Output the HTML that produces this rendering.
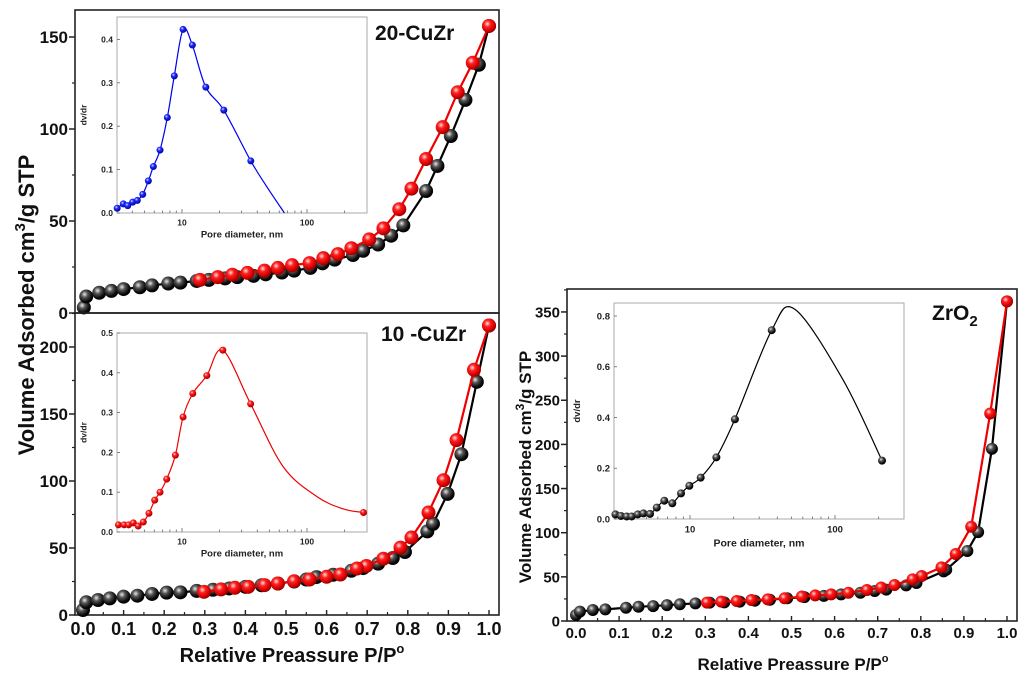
<!DOCTYPE html>
<html><head><meta charset="utf-8"><style>
html,body{margin:0;padding:0;background:#fff;}
svg{display:block;font-family:"Liberation Sans",Arial,sans-serif;}
.tl{font-weight:bold;}
</style></head><body>
<svg id="fig" width="1024" height="678" viewBox="0 0 1024 678" xmlns="http://www.w3.org/2000/svg">
<defs>
<radialGradient id="gBlack" cx="38%" cy="35%" r="65%"><stop offset="0" stop-color="#e8e8e8"/><stop offset="0.35" stop-color="#555"/><stop offset="0.8" stop-color="#0a0a0a"/><stop offset="1" stop-color="#000"/></radialGradient>
<radialGradient id="gRed" cx="38%" cy="35%" r="65%"><stop offset="0" stop-color="#ffe0e0"/><stop offset="0.35" stop-color="#ff2020"/><stop offset="0.8" stop-color="#d00000"/><stop offset="1" stop-color="#900"/></radialGradient>
<radialGradient id="gBlue" cx="38%" cy="35%" r="65%"><stop offset="0" stop-color="#e0e8ff"/><stop offset="0.35" stop-color="#2030ff"/><stop offset="1" stop-color="#0000a0"/></radialGradient>
</defs>
</svg>
<script>
// ---- Panel A: 20-CuZr isotherm ----
const aAdsP = [0.002,0.008,0.04,0.07,0.1,0.14,0.17,0.21,0.24,0.28,0.31,0.35,0.38,0.42,0.45,0.49,0.52,0.56,0.59,0.62,0.665,0.69,0.727,0.759,0.789,0.845,0.873,0.906,0.942,0.975,1.0];
const aAdsV = [3,9,11,12,13,14,15,16,16.5,17.4,18,18.8,19.5,20.2,21,22,23,24.5,27,29,31.5,33.8,37.2,42,47.6,66.3,79.9,96.2,115.8,134.9,156];
const aDesP = [1.0,0.96,0.923,0.886,0.845,0.809,0.779,0.74,0.705,0.661,0.628,0.592,0.558,0.515,0.48,0.447,0.405,0.368,0.332,0.288];
const aDesV = [156,136,120,101,83.7,67.6,56.4,46,40,35.2,32,29.8,27.1,26,24.5,23,21.8,20.8,19.5,18];
// inset A
const iaD = [3.03,3.39,3.68,4.03,4.39,4.85,5.38,5.9,6.67,7.63,8.68,10.2,12.1,15.5,21.6,35.5];
const iaV = [0.011,0.021,0.017,0.025,0.029,0.043,0.074,0.107,0.145,0.22,0.316,0.423,0.387,0.29,0.237,0.12];
const iaFitD = [47.6,66];
const iaFitV = [0.061,0];
// ---- Panel B: 10-CuZr ----
const bAdsP = [0,0.008,0.037,0.066,0.1,0.134,0.17,0.206,0.24,0.28,0.32,0.36,0.4,0.44,0.48,0.52,0.55,0.575,0.616,0.661,0.69,0.727,0.763,0.793,0.848,0.862,0.898,0.932,0.97,1.0];
const bAdsV = [3.7,9.5,11.2,12.4,13.7,14.4,15.7,16.7,16.9,18,18.8,19.8,21,22.2,23.5,25,26.5,28.3,30,33,35,38.3,42.5,47,62.4,68,90.4,120,174,216];
const bDesP = [1.0,0.963,0.92,0.888,0.851,0.809,0.782,0.74,0.698,0.675,0.634,0.6,0.558,0.52,0.48,0.447,0.407,0.374,0.34,0.298];
const bDesV = [216,183,130.5,100.6,76.5,57.8,50.3,42,36.6,34.7,30.2,28.5,26.5,25.2,23.5,22.3,21,20.3,19.1,17.3];
const ibD = [3.1,3.44,3.74,4.08,4.46,4.9,5.44,6.05,6.67,7.55,8.85,10.2,12.2,15.8,21.2,35.4,283];
const ibV = [0.018,0.018,0.018,0.023,0.015,0.025,0.047,0.08,0.1,0.133,0.193,0.289,0.348,0.393,0.457,0.322,0.049];
const ibFitD = [64.5,120,195];
const ibFitV = [0.164,0.089,0.058];
// ---- Panel C: ZrO2 ----
const cAdsP = [0,0.009,0.039,0.068,0.116,0.145,0.179,0.211,0.241,0.277,0.31,0.344,0.38,0.415,0.45,0.49,0.53,0.575,0.615,0.66,0.693,0.72,0.766,0.79,0.853,0.859,0.908,0.933,0.965,1.0];
const cAdsV = [6.8,10.6,12.5,13.2,15,16.2,16.9,18,18.9,20,20.8,21.1,22,23,24,25.7,27,28.5,30.2,32,34,35.5,40.4,43,56.2,58,79.3,100.7,195,362];
const cDesP = [1.0,0.961,0.917,0.881,0.848,0.802,0.781,0.739,0.708,0.675,0.632,0.592,0.555,0.524,0.484,0.445,0.407,0.373,0.337,0.304];
const cDesV = [362,235,106.8,75.9,60.8,51,47.2,40.8,38,35.1,32,30.2,29,27.7,25.7,24.5,23.8,22.6,21.9,20.8];
const icD = [3.06,3.34,3.66,3.96,4.36,4.77,5.3,5.9,6.65,7.55,8.67,9.9,11.85,15.2,20.4,36.6,211];
const icV = [0.018,0.012,0.01,0.01,0.018,0.022,0.02,0.045,0.072,0.062,0.101,0.131,0.163,0.243,0.393,0.744,0.23];
const icFitD = [53,114];
const icFitV = [0.826,0.547];
// tick labels
const pTicks = [0,0.1,0.2,0.3,0.4,0.5,0.6,0.7,0.8,0.9,1.0];
const aYTicks = [0,50,100,150];
const bYTicks = [0,50,100,150,200];
const cYTicks = [0,50,100,150,200,250,300,350];
const iaYTicks = [0,0.1,0.2,0.3,0.4];
const ibYTicks = [0,0.1,0.2,0.3,0.4,0.5];
const icYTicks = [0,0.2,0.4,0.6,0.8];
const logTicks = [10,100];

const NS="http://www.w3.org/2000/svg";
const svg=document.getElementById('fig');
function mk(tag,attrs,parent){const e=document.createElementNS(NS,tag);for(const k in attrs)e.setAttribute(k,attrs[k]);(parent||svg).appendChild(e);return e;}
function txt(s,attrs,parent){const e=mk('text',attrs,parent);e.textContent=s;return e;}

function isotherm(cfg){
  const g=mk('g',{});
  
  
  const X=p=>cfg.x0+cfg.xs*p, Y=v=>cfg.y0-cfg.ys*v;
  const fr=mk('rect',{x:cfg.fx0,y:cfg.fy0,width:cfg.fx1-cfg.fx0,height:cfg.fy1-cfg.fy0,fill:'none',stroke:'#222','stroke-width':1.6},g);
  
  
  const step=cfg.yt[1]-cfg.yt[0];
  for(let i=0;i<cfg.yt.length;i++){
    const v=cfg.yt[i];
    mk('line',{x1:cfg.fx0-6,x2:cfg.fx0,y1:Y(v),y2:Y(v),stroke:'#222','stroke-width':1.5},g);
    const mv=v+step/2;
    if(Y(mv)>cfg.fy0) mk('line',{x1:cfg.fx0-3,x2:cfg.fx0,y1:Y(mv),y2:Y(mv),stroke:'#222','stroke-width':1.2},g);
    const t=txt(String(v),{x:cfg.fx0-7,y:Y(v)+cfg.tf*0.36,'text-anchor':'end','font-size':cfg.tf,class:'tl',fill:'#111'},g);
    
    
  }
  if(cfg.xlabels){
    for(let i=0;i<pTicks.length;i++){
      const p=pTicks[i];
      mk('line',{x1:X(p),x2:X(p),y1:cfg.fy1,y2:cfg.fy1-5,stroke:'#222','stroke-width':1.4},g);
      if(p<1) mk('line',{x1:X(p+0.05),x2:X(p+0.05),y1:cfg.fy1,y2:cfg.fy1-3,stroke:'#222','stroke-width':1.2},g);
      const t=txt(p.toFixed(1),{x:X(p),y:cfg.fy1+cfg.xf+2,'text-anchor':'middle','font-size':cfg.xf,class:'tl',fill:'#111'},g);
      
      
    }
  }
  const series=[[cfg.ap,cfg.av,'#000','url(#gBlack)','adsorption'],[cfg.dp,cfg.dv,'#e00','url(#gRed)','desorption']];
  for(const [ps,vs,col,fill,nm] of series){
    const pts=ps.map((p,i)=>X(p)+','+Y(vs[i])).join(' ');
    const l=mk('polyline',{points:pts,fill:'none',stroke:col,'stroke-width':2.2},g);
    
    
    for(let i=0;i<ps.length;i++){
      const c=mk('circle',{cx:X(ps[i]),cy:Y(vs[i]),r:cfg.r,fill:fill},g);
      
      
    }
  }
}

function spline(pts){
  let d='M'+pts[0][0]+','+pts[0][1];
  for(let i=0;i<pts.length-1;i++){
    const p0=pts[Math.max(i-1,0)],p1=pts[i],p2=pts[i+1],p3=pts[Math.min(i+2,pts.length-1)];
    const c1=[p1[0]+(p2[0]-p0[0])/6,p1[1]+(p2[1]-p0[1])/6];
    const c2=[p2[0]-(p3[0]-p1[0])/6,p2[1]-(p3[1]-p1[1])/6];
    d+=' C'+c1[0]+','+c1[1]+' '+c2[0]+','+c2[1]+' '+p2[0]+','+p2[1];
  }
  return d;
}

function inset(cfg){
  const g=mk('g',{});
  
  
  const X=d=>cfg.x10+cfg.dec*(Math.log10(d)-1), Y=v=>cfg.y0-cfg.ys*v;
  const bg=mk('rect',{x:cfg.bx0,y:cfg.by0,width:cfg.bx1-cfg.bx0,height:cfg.by1-cfg.by0,fill:'#fff',stroke:'#aaa','stroke-width':1},g);
  
  
  for(const v of cfg.yt){
    mk('line',{x1:cfg.bx0,x2:cfg.bx0+3,y1:Y(v),y2:Y(v),stroke:'#666','stroke-width':0.8},g);
    const t=txt(v.toFixed(1),{x:cfg.bx0-4,y:Y(v)+cfg.f*0.35,'text-anchor':'end','font-size':cfg.f,fill:'#222','font-weight':'bold'},g);
    
    
  }
  for(let dec=1;dec<=100;dec*=10){
    for(let m=1;m<10;m++){
      const d=dec*m, x=X(d);
      if(x<cfg.bx0+1||x>cfg.bx1-1) continue;
      mk('line',{x1:x,x2:x,y1:cfg.by1,y2:cfg.by1-(m===1?4:2.5),stroke:'#666','stroke-width':0.8},g);
    }
  }
  for(const d of logTicks){
    const t=txt(String(d),{x:X(d),y:cfg.by1+cfg.f+4,'text-anchor':'middle','font-size':cfg.f,fill:'#222','font-weight':'bold'},g);
    
    
  }
  const xt=txt('Pore diameter, nm',{x:(cfg.bx0+cfg.bx1)/2,y:cfg.by1+cfg.f*2.9,'text-anchor':'middle','font-size':cfg.f+1,fill:'#222','font-weight':'bold'},g);
  
  
  const yx=cfg.bx0-cfg.f*3.6, yy=(cfg.by0+cfg.by1)/2;
  const yt=txt('dv/dr',{x:yx,y:yy,'text-anchor':'middle','font-size':cfg.f,fill:'#222','font-weight':'bold',transform:'rotate(-90 '+yx+' '+yy+')'},g);
  
  
  const all=cfg.d.map((d,i)=>[d,cfg.v[i]]).concat(cfg.fd.map((d,i)=>[d,cfg.fv[i]])).sort((a,b)=>a[0]-b[0]);
  const px=all.map(q=>[X(q[0]),Y(q[1])]);
  const cp=mk('clipPath',{id:cfg.name+'-clip'},g);
  mk('rect',{x:cfg.bx0,y:cfg.by0,width:cfg.bx1-cfg.bx0,height:cfg.by1-cfg.by0},cp);
  const c=mk('path',{d:spline(px),fill:'none',stroke:cfg.col,'stroke-width':1.2,'clip-path':'url(#'+cfg.name+'-clip)'},g);
  
  
  for(let i=0;i<cfg.d.length;i++){
    const m=mk('circle',{cx:X(cfg.d[i]),cy:Y(cfg.v[i]),r:cfg.r,fill:cfg.fill},g);
    
    
  }
}

isotherm({name:'panel-20-cuzr',fx0:75,fx1:499,fy0:10,fy1:313,x0:83,xs:406,y0:313,ys:1.84,yt:aYTicks,tf:17,xlabels:false,r:7,ap:aAdsP,av:aAdsV,dp:aDesP,dv:aDesV});
isotherm({name:'panel-10-cuzr',fx0:75,fx1:499,fy0:313,fy1:615,x0:83,xs:406,y0:615,ys:1.34,yt:bYTicks,tf:17,xlabels:true,xf:18,r:7,ap:bAdsP,av:bAdsV,dp:bDesP,dv:bDesV});
isotherm({name:'panel-zro2',fx0:567,fx1:1017,fy0:289,fy1:621,x0:576,xs:431,y0:621,ys:0.883,yt:cYTicks,tf:15,xlabels:true,xf:15,r:6,ap:cAdsP,av:cAdsV,dp:cDesP,dv:cDesV});
inset({name:'inset-20-cuzr',bx0:117,bx1:367,by0:17,by1:213,x10:182,dec:125,y0:213,ys:434,yt:iaYTicks,f:8.5,r:3.5,col:'#0000ee',fill:'url(#gBlue)',d:iaD,v:iaV,fd:iaFitD,fv:iaFitV});
inset({name:'inset-10-cuzr',bx0:117,bx1:367,by0:333,by1:532,x10:182,dec:125,y0:532,ys:398,yt:ibYTicks,f:8.5,r:3.5,col:'#ee0000',fill:'url(#gRed)',d:ibD,v:ibV,fd:ibFitD,fv:ibFitV});
inset({name:'inset-zro2',bx0:614,bx1:904,by0:303,by1:519,x10:690,dec:145,y0:519,ys:253.75,yt:icYTicks,f:9.5,r:4,col:'#000',fill:'url(#gBlack)',d:icD,v:icV,fd:icFitD,fv:icFitV});

function label(s,a){const t=txt('',a);t.innerHTML=s;return t;}
const l1=label('20-CuZr',{x:375,y:40,'font-size':21,'font-weight':'bold',fill:'#111'});

const l2=label('10 -CuZr',{x:381,y:341,'font-size':21,'font-weight':'bold',fill:'#111'});

const l3=label('ZrO<tspan font-size="15" dy="6">2</tspan>',{x:932,y:320,'font-size':21,'font-weight':'bold',fill:'#111'});

const y1=label('Volume Adsorbed cm<tspan font-size="15" dy="-9">3</tspan><tspan dy="9">/g STP</tspan>',{x:34,y:305,'text-anchor':'middle','font-size':22,'font-weight':'bold',fill:'#111',transform:'rotate(-90 34 305)'});

const y2=label('Volume Adsorbed cm<tspan font-size="12" dy="-7">3</tspan><tspan dy="7">/g STP</tspan>',{x:531,y:467,'text-anchor':'middle','font-size':17,'font-weight':'bold',fill:'#111',transform:'rotate(-90 531 467)'});

const x1=label('Relative Preassure P/P<tspan font-size="13" dy="-9">o</tspan>',{x:292,y:662,'text-anchor':'middle','font-size':20,'font-weight':'bold',fill:'#111'});

const x2=label('Relative Preassure P/P<tspan font-size="11" dy="-8">o</tspan>',{x:793,y:670,'text-anchor':'middle','font-size':17,'font-weight':'bold',fill:'#111'});

</script>
</body></html>
